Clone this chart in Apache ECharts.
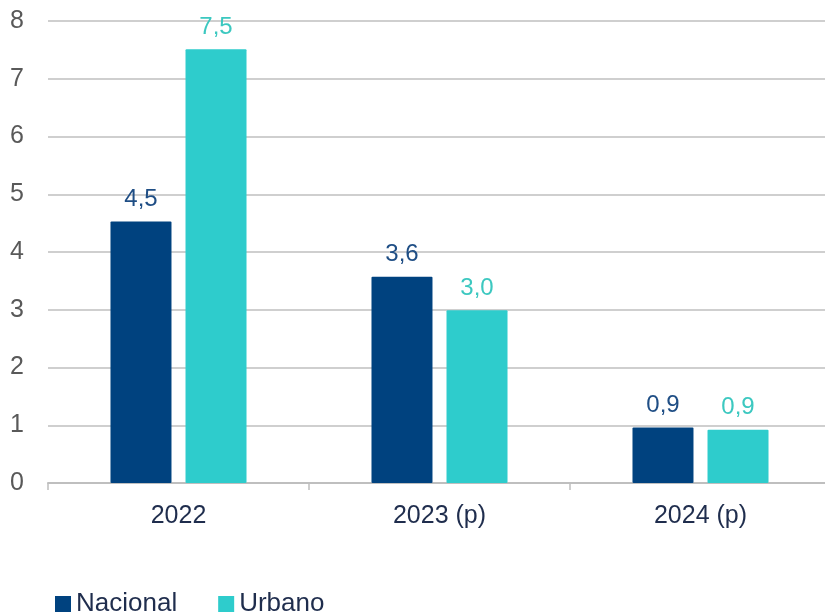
<!DOCTYPE html>
<html>
<head>
<meta charset="utf-8">
<script src="https://cdn.jsdelivr.net/npm/echarts@6/dist/echarts.min.js"></script>
<style>
html,body{margin:0;padding:0;background:#fff;}
#main{width:825px;height:612px;}
</style>
</head>
<body>
<div id="main"></div>
<script>
var categories = ['2022', '2023 (p)', '2024 (p)']
var nacional = [4.53, 3.57, 0.96]
var urbano = [7.51, 2.99, 0.92]
var nacionalLabels = ['4,5', '3,6', '0,9']
var urbanoLabels = ['7,5', '3,0', '0,9']

var chartDom = document.getElementById('main')
var myChart = echarts.init(chartDom)
var font = 'Liberation Sans, Arial, sans-serif'
var option = {
  animation: false,
  textStyle: { fontFamily: font },
  grid: { left: 48, width: 783, top: 21, bottom: 129, outerBoundsMode: 'none', containLabel: false },
  legend: {
    left: 50,
    top: 586,
    itemWidth: 16,
    itemHeight: 16,
    itemGap: 41,
    icon: 'rect',
    textStyle: { fontSize: 26, color: '#1f2d4d', fontFamily: font },
    data: ['Nacional', 'Urbano']
  },
  xAxis: {
    type: 'category',
    data: categories,
    axisLine: { lineStyle: { color: '#bfbfbf', width: 2 } },
    axisTick: { show: true, length: 7, lineStyle: { color: '#bfbfbf', width: 1.5 } },
    axisLabel: { fontSize: 25, color: '#1f2d4d', margin: 21, fontFamily: font }
  },
  yAxis: {
    type: 'value',
    min: 0,
    max: 8,
    interval: 1,
    axisLine: { show: false },
    axisTick: { show: false },
    splitLine: { lineStyle: { color: '#bfbfbf', width: 1.5 } },
    axisLabel: { fontSize: 25, color: '#595959', margin: 24, fontFamily: font }
  },
  series: [
    {
      name: 'Nacional',
      type: 'bar',
      data: nacional,
      barWidth: 61,
      barGap: '23%',
      itemStyle: { color: '#00427f', borderRadius: 1 },
      label: {
        show: true,
        position: 'top',
        distance: 10,
        fontSize: 24,
        color: '#1f4e85',
        fontFamily: font,
        formatter: function (p) { return nacionalLabels[p.dataIndex] }
      }
    },
    {
      name: 'Urbano',
      type: 'bar',
      data: urbano,
      barWidth: 61,
      itemStyle: { color: '#2ecccc', borderRadius: 1 },
      label: {
        show: true,
        position: 'top',
        distance: 10,
        fontSize: 24,
        color: '#3cc8c0',
        fontFamily: font,
        formatter: function (p) { return urbanoLabels[p.dataIndex] }
      }
    }
  ]
}
myChart.setOption(option)
</script>
</body>
</html>
